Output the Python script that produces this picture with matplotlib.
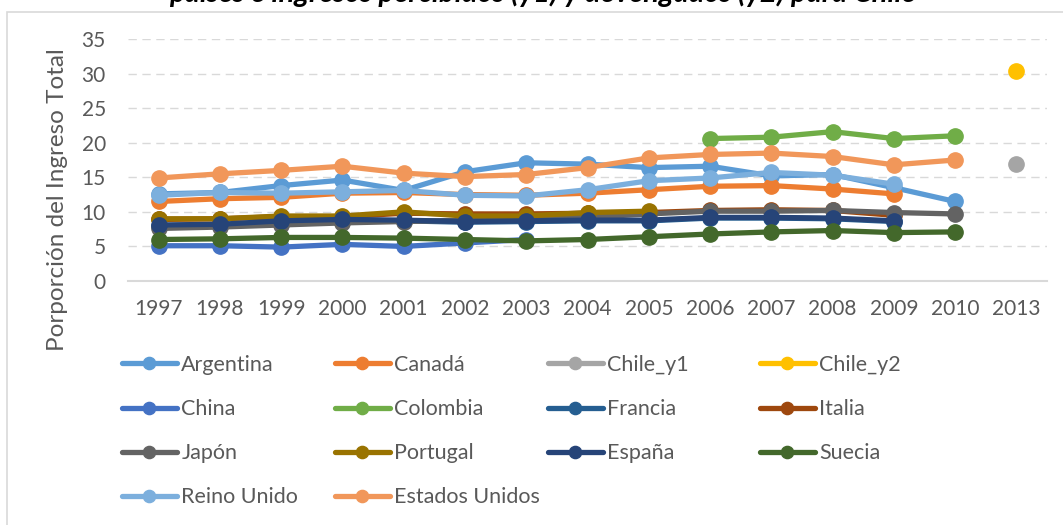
import numpy as np
import matplotlib
matplotlib.use("Agg")
import matplotlib.pyplot as plt
from matplotlib.patches import Rectangle

plt.rcParams['font.family'] = ['Lato', 'DejaVu Sans']

nan = np.nan
years = ['1997', '1998', '1999', '2000', '2001', '2002', '2003', '2004',
         '2005', '2006', '2007', '2008', '2009', '2010', '2013']

argentina = [12.6, 12.8, 13.8, 14.6, 13.1, 15.8, 17.1, 16.9, 16.4, 16.6, 15.2, 15.4, 13.5, 11.5, nan]
canada = [11.5, 11.9, 12.1, 12.7, 12.8, 12.5, 12.4, 12.7, 13.2, 13.7, 13.8, 13.3, 12.6, nan, nan]
chile_y1 = [nan] * 14 + [16.9]
chile_y2 = [nan] * 14 + [30.3]
china = [5.1, 5.1, 4.9, 5.3, 5.0, 5.5, 6.0, nan, nan, nan, nan, nan, nan, nan, nan]
colombia = [nan] * 9 + [20.6, 20.8, 21.6, 20.6, 21.0, nan]
francia = [8.0, 8.1, 8.6, 8.8, 8.7, 8.5, 8.6, 8.7, 8.7, 9.1, 9.1, 9.0, 8.6, nan, nan]
italia = [8.9, 9.0, 9.3, 9.3, 9.8, 9.7, 9.7, 9.8, 9.9, 10.2, 10.3, 10.2, 9.5, nan, nan]
japon = [7.6, 7.8, 8.1, 8.4, 8.6, 8.8, 8.9, 9.2, 9.7, 10.1, 10.1, 10.2, 9.9, 9.7, nan]
portugal = [9.0, 9.0, 9.4, 9.4, 10.0, 9.4, 9.4, 9.9, 10.1, nan, nan, nan, nan, nan, nan]
espana = [8.1, 8.2, 8.7, 8.9, 8.8, 8.6, 8.7, 8.8, 8.8, 9.2, 9.2, 9.1, 8.7, nan, nan]
suecia = [6.0, 6.1, 6.3, 6.3, 6.2, 6.0, 5.8, 6.0, 6.4, 6.8, 7.1, 7.3, 7.0, 7.1, nan]
reino_unido = [12.4, 12.8, 12.7, 12.9, 13.1, 12.4, 12.3, 13.2, 14.5, 14.9, 15.7, 15.3, 14.0, nan, nan]
estados_unidos = [14.9, 15.5, 16.0, 16.6, 15.6, 15.1, 15.4, 16.4, 17.8, 18.3, 18.5, 18.0, 16.8, 17.5, nan]

series = [
    ('Argentina', argentina, '#5B9BD5'),
    ('Canadá', canada, '#ED7D31'),
    ('Chile_y1', chile_y1, '#A5A5A5'),
    ('Chile_y2', chile_y2, '#FFC000'),
    ('China', china, '#4472C4'),
    ('Colombia', colombia, '#70AD47'),
    ('Francia', francia, '#255E91'),
    ('Italia', italia, '#9E480E'),
    ('Japón', japon, '#636363'),
    ('Portugal', portugal, '#997300'),
    ('España', espana, '#264478'),
    ('Suecia', suecia, '#43682B'),
    ('Reino Unido', reino_unido, '#7CAFDD'),
    ('Estados Unidos', estados_unidos, '#F1975A'),
]

txt = '#595959'
fig = plt.figure(figsize=(10.63, 5.25), dpi=100)
ax = fig.add_axes([128 / 1063, 1 - 281 / 525, 919 / 1063, 242 / 525])

x = np.arange(len(years))
for name, vals, col in series:
    ax.plot(x, vals, color=col, lw=3.8, marker='o', ms=11, label=name,
            solid_capstyle='round')

ax.set_xlim(-0.5, len(years) - 0.5)
ax.set_ylim(0, 35)
ax.set_yticks(range(0, 36, 5))
ax.set_xticks(x)
ax.set_xticklabels(years)
ax.tick_params(length=0, labelsize=15, colors=txt)
ax.tick_params(axis='y', pad=16)
ax.tick_params(axis='x', pad=13)
ax.yaxis.grid(True, color='#D9D9D9', lw=1, ls=(0, (6, 4)))
ax.set_axisbelow(True)
for s in ['top', 'right', 'left']:
    ax.spines[s].set_visible(False)
ax.spines['bottom'].set_color('#D9D9D9')
ax.spines['bottom'].set_linewidth(1.5)
ax.spines['bottom'].set_zorder(0)

fig.text(58 / 1063, 1 - 200 / 525, 'Porporción del Ingreso Total', rotation=90,
         ha='center', va='center', fontsize=17.5, color=txt)

# title, cut off at the top as in the original
fig.text(542 / 1063, 1 - 2 / 525,
         'países e ingresos percibidos (y1) y devengados (y2) para Chile',
         ha='center', va='baseline', fontsize=21, fontweight='bold',
         style='italic', color='black')

# chart frame
fig.add_artist(Rectangle((7 / 1063, -0.05), 1.2, 1.05 - 12 / 525,
                         transform=fig.transFigure, fill=False,
                         edgecolor='#D9D9D9', lw=1.2))

# legend: 4 fixed-width columns, filled row by row
handles, labels = ax.get_legend_handles_labels()
col_x = [122, 335, 548, 760]
for c in range(4):
    idx = list(range(c, len(handles), 4))
    leg = fig.legend([handles[i] for i in idx], [labels[i] for i in idx],
                     loc='upper left', bbox_to_anchor=(col_x[c] / 1063, 1 - 355 / 525),
                     frameon=False, fontsize=15.5, handlelength=2.55,
                     handletextpad=0.2, labelspacing=1.12, borderpad=0,
                     borderaxespad=0, markerscale=0.8)
    for t in leg.get_texts():
        t.set_color(txt)

fig.savefig('out.png', dpi=100)
